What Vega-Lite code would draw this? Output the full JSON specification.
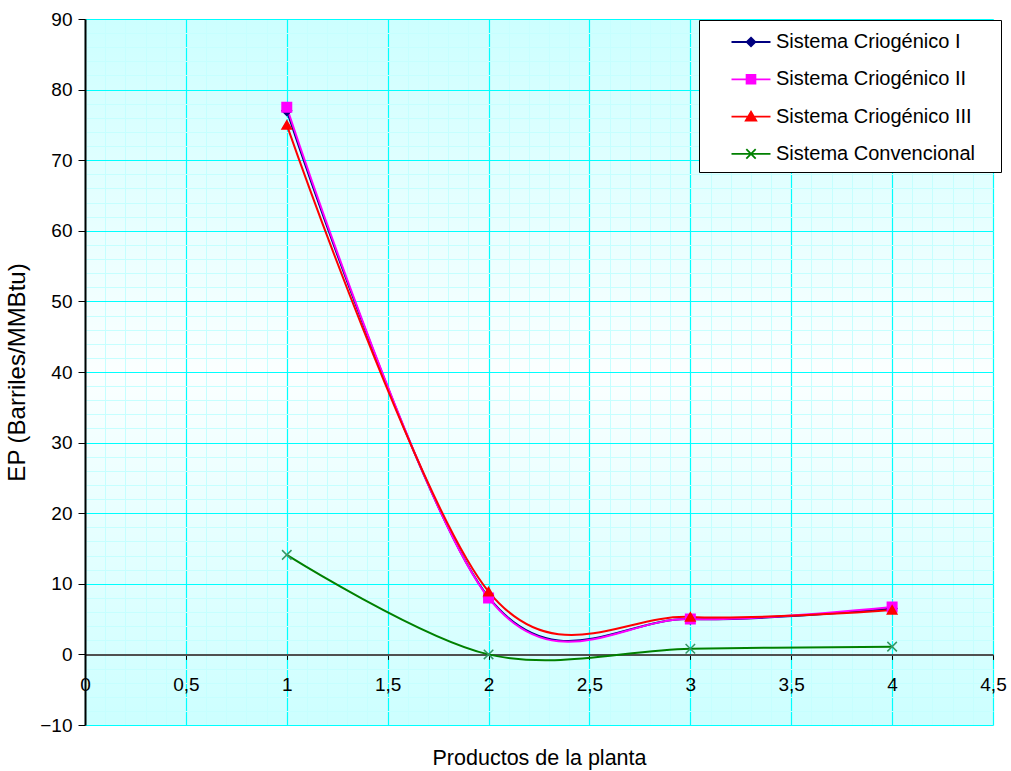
{
  "$schema": "https://vega.github.io/schema/vega-lite/v6.json",
  "autosize": {"type": "none"},
  "padding": {"left": 85, "top": 19, "right": 18, "bottom": 46},
  "width": 908,
  "height": 706,
  "background": "white",
  "view": {
    "stroke": "#808080",
    "strokeWidth": 1,
    "fill": {
      "gradient": "linear",
      "x1": 0, "y1": 0, "x2": 0, "y2": 1,
      "stops": [
        {"offset": 0, "color": "#ccffff"},
        {"offset": 0.5, "color": "#fbffff"},
        {"offset": 1, "color": "#ccffff"}
      ]
    }
  },
  "config": {
    "font": "Liberation Sans",
    "axis": {"labelColor": "black", "titleColor": "black", "titleFontWeight": "normal"}
  },
  "data": {
    "values": [
      {"producto": 1, "ep": 77.0, "serie": "Sistema Criogénico I"},
      {"producto": 2, "ep": 8.1, "serie": "Sistema Criogénico I"},
      {"producto": 3, "ep": 5.0, "serie": "Sistema Criogénico I"},
      {"producto": 4, "ep": 6.5, "serie": "Sistema Criogénico I"},
      {"producto": 1, "ep": 77.5, "serie": "Sistema Criogénico II"},
      {"producto": 2, "ep": 8.0, "serie": "Sistema Criogénico II"},
      {"producto": 3, "ep": 5.0, "serie": "Sistema Criogénico II"},
      {"producto": 4, "ep": 6.7, "serie": "Sistema Criogénico II"},
      {"producto": 1, "ep": 75.0, "serie": "Sistema Criogénico III"},
      {"producto": 2, "ep": 8.9, "serie": "Sistema Criogénico III"},
      {"producto": 3, "ep": 5.3, "serie": "Sistema Criogénico III"},
      {"producto": 4, "ep": 6.3, "serie": "Sistema Criogénico III"},
      {"producto": 1, "ep": 14.1, "serie": "Sistema Convencional"},
      {"producto": 2, "ep": 0.0, "serie": "Sistema Convencional"},
      {"producto": 3, "ep": 0.8, "serie": "Sistema Convencional"},
      {"producto": 4, "ep": 1.1, "serie": "Sistema Convencional"}
    ]
  },
  "resolve": {
    "scale": {"color": "independent", "fill": "independent", "shape": "independent"},
    "axis": {"x": "independent", "y": "independent"}
  },
  "layer": [
    {
      "mark": {"type": "line", "interpolate": "cardinal", "tension": 0, "strokeWidth": 2},
      "encoding": {
        "x": {
          "field": "producto", "type": "quantitative",
          "scale": {"domain": [0, 4.5], "nice": false, "zero": false},
          "axis": {
            "orient": "bottom",
            "title": null, "labels": false, "ticks": false, "domain": false,
            "grid": true, "gridColor": "#c6ffff", "gridWidth": 1,
            "values": [0, 0.1, 0.2, 0.3, 0.4, 0.5, 0.6, 0.7, 0.8, 0.9, 1, 1.1, 1.2, 1.3, 1.4, 1.5, 1.6, 1.7, 1.8, 1.9, 2, 2.1, 2.2, 2.3, 2.4, 2.5, 2.6, 2.7, 2.8, 2.9, 3, 3.1, 3.2, 3.3, 3.4, 3.5, 3.6, 3.7, 3.8, 3.9, 4, 4.1, 4.2, 4.3, 4.4, 4.5]
          }
        },
        "y": {
          "field": "ep", "type": "quantitative",
          "scale": {"domain": [-10, 90], "nice": false, "zero": false},
          "axis": {
            "orient": "left",
            "title": null, "labels": false, "ticks": false, "domain": false,
            "grid": true, "gridColor": "#c6ffff", "gridWidth": 1,
            "values": [-10, -8, -6, -4, -2, 0, 2, 4, 6, 8, 10, 12, 14, 16, 18, 20, 22, 24, 26, 28, 30, 32, 34, 36, 38, 40, 42, 44, 46, 48, 50, 52, 54, 56, 58, 60, 62, 64, 66, 68, 70, 72, 74, 76, 78, 80, 82, 84, 86, 88, 90]
          }
        },
        "color": {
          "field": "serie", "type": "nominal",
          "scale": {
            "domain": ["Sistema Criogénico I", "Sistema Criogénico II", "Sistema Criogénico III", "Sistema Convencional"],
            "range": ["#000080", "#ff00ff", "#ff0000", "#008000"]
          },
          "legend": null
        }
      }
    },
    {
      "mark": {"type": "point", "filled": false, "opacity": 1, "strokeWidth": 1.5},
      "encoding": {
        "x": {
          "field": "producto", "type": "quantitative",
          "axis": {
            "orient": "bottom",
            "title": "Productos de la planta", "titleFontSize": 21.5, "titlePadding": 53,
            "offset": -70.6,
            "values": [0, 0.5, 1, 1.5, 2, 2.5, 3, 3.5, 4, 4.5],
            "labelExpr": "replace(format(datum.value, '~g'), '.', ',')",
            "labelFontSize": 19, "labelPadding": 16, "labelFlush": false, "labelOverlap": false,
            "grid": true, "gridColor": "#00ffff", "gridWidth": 1.2,
            "domainColor": "#505050", "domainWidth": 2,
            "tickColor": "black", "tickSize": 5, "tickWidth": 1
          }
        },
        "y": {
          "field": "ep", "type": "quantitative",
          "axis": {
            "orient": "left",
            "title": "EP (Barriles/MMBtu)", "titleFontSize": 24, "titlePadding": 10,
            "values": [-10, 0, 10, 20, 30, 40, 50, 60, 70, 80, 90],
            "labelFontSize": 19, "labelPadding": 6, "labelOverlap": false, "labelFlush": false,
            "grid": true, "gridColor": "#00ffff", "gridWidth": 1.2,
            "domainColor": "black", "domainWidth": 2,
            "tickColor": "black", "tickSize": 7, "tickWidth": 1
          }
        },
        "color": {
          "field": "serie", "type": "nominal",
          "scale": {
            "domain": ["Sistema Criogénico I", "Sistema Criogénico II", "Sistema Criogénico III", "Sistema Convencional"],
            "range": ["#000080", "#ff00ff", "#ff0000", "#339966"]
          },
          "legend": null
        },
        "fill": {
          "field": "serie", "type": "nominal",
          "scale": {
            "domain": ["Sistema Criogénico I", "Sistema Criogénico II", "Sistema Criogénico III", "Sistema Convencional"],
            "range": ["#000080", "#ff00ff", "#ff0000", "transparent"]
          },
          "legend": null
        },
        "shape": {
          "field": "serie", "type": "nominal",
          "scale": {
            "domain": ["Sistema Criogénico I", "Sistema Criogénico II", "Sistema Criogénico III", "Sistema Convencional"],
            "range": ["diamond", "square", "triangle-up", "M-1,-1L1,1M-1,1L1,-1"]
          },
          "legend": null
        },
        "size": {"value": 90}
      }
    },
    {
      "transform": [{"filter": "datum.producto > 100"}],
      "mark": {"type": "point", "filled": false, "opacity": 1, "strokeWidth": 1.8},
      "encoding": {
        "x": {"field": "producto", "type": "quantitative", "axis": null},
        "y": {"field": "ep", "type": "quantitative", "axis": null},
        "color": {
          "field": "serie", "type": "nominal",
          "scale": {
            "domain": ["Sistema Criogénico I", "Sistema Criogénico II", "Sistema Criogénico III", "Sistema Convencional"],
            "range": ["#000080", "#ff00ff", "#ff0000", "#008000"]
          },
          "legend": {"title": "\u00a0"}
        },
        "fill": {
          "field": "serie", "type": "nominal",
          "scale": {
            "domain": ["Sistema Criogénico I", "Sistema Criogénico II", "Sistema Criogénico III", "Sistema Convencional"],
            "range": ["#000080", "#ff00ff", "#ff0000", "transparent"]
          },
          "legend": {"title": "\u00a0"}
        },
        "shape": {
          "field": "serie", "type": "nominal",
          "scale": {
            "domain": ["Sistema Criogénico I", "Sistema Criogénico II", "Sistema Criogénico III", "Sistema Convencional"],
            "range": [
              "M-1.5,0H1.5M0,-0.33L0.33,0L0,0.33L-0.33,0Z",
              "M-1.5,0H1.5M-0.34,-0.34H0.34V0.34H-0.34Z",
              "M-1.5,0H1.5M0,-0.38L0.4,0.3H-0.4Z",
              "M-1.5,0H1.5M-0.36,-0.36L0.36,0.36M-0.36,0.36L0.36,-0.36"
            ]
          },
          "legend": {
            "title": "\u00a0",
            "titleOrient": "right",
            "titlePadding": 18,
            "titleFontSize": 2,
            "orient": "none",
            "legendX": 614,
            "legendY": 1,
            "padding": 8,
            "fillColor": "white",
            "strokeColor": "black",
            "cornerRadius": 0,
            "symbolSize": 676,
            "symbolStrokeWidth": 1.8,
            "symbolOpacity": 1,
            "symbolOffset": 30,
            "labelOffset": 11,
            "rowPadding": 13.3,
            "labelFontSize": 20,
            "labelColor": "black",
            "labelLimit": 400
          }
        }
      }
    }
  ]
}
